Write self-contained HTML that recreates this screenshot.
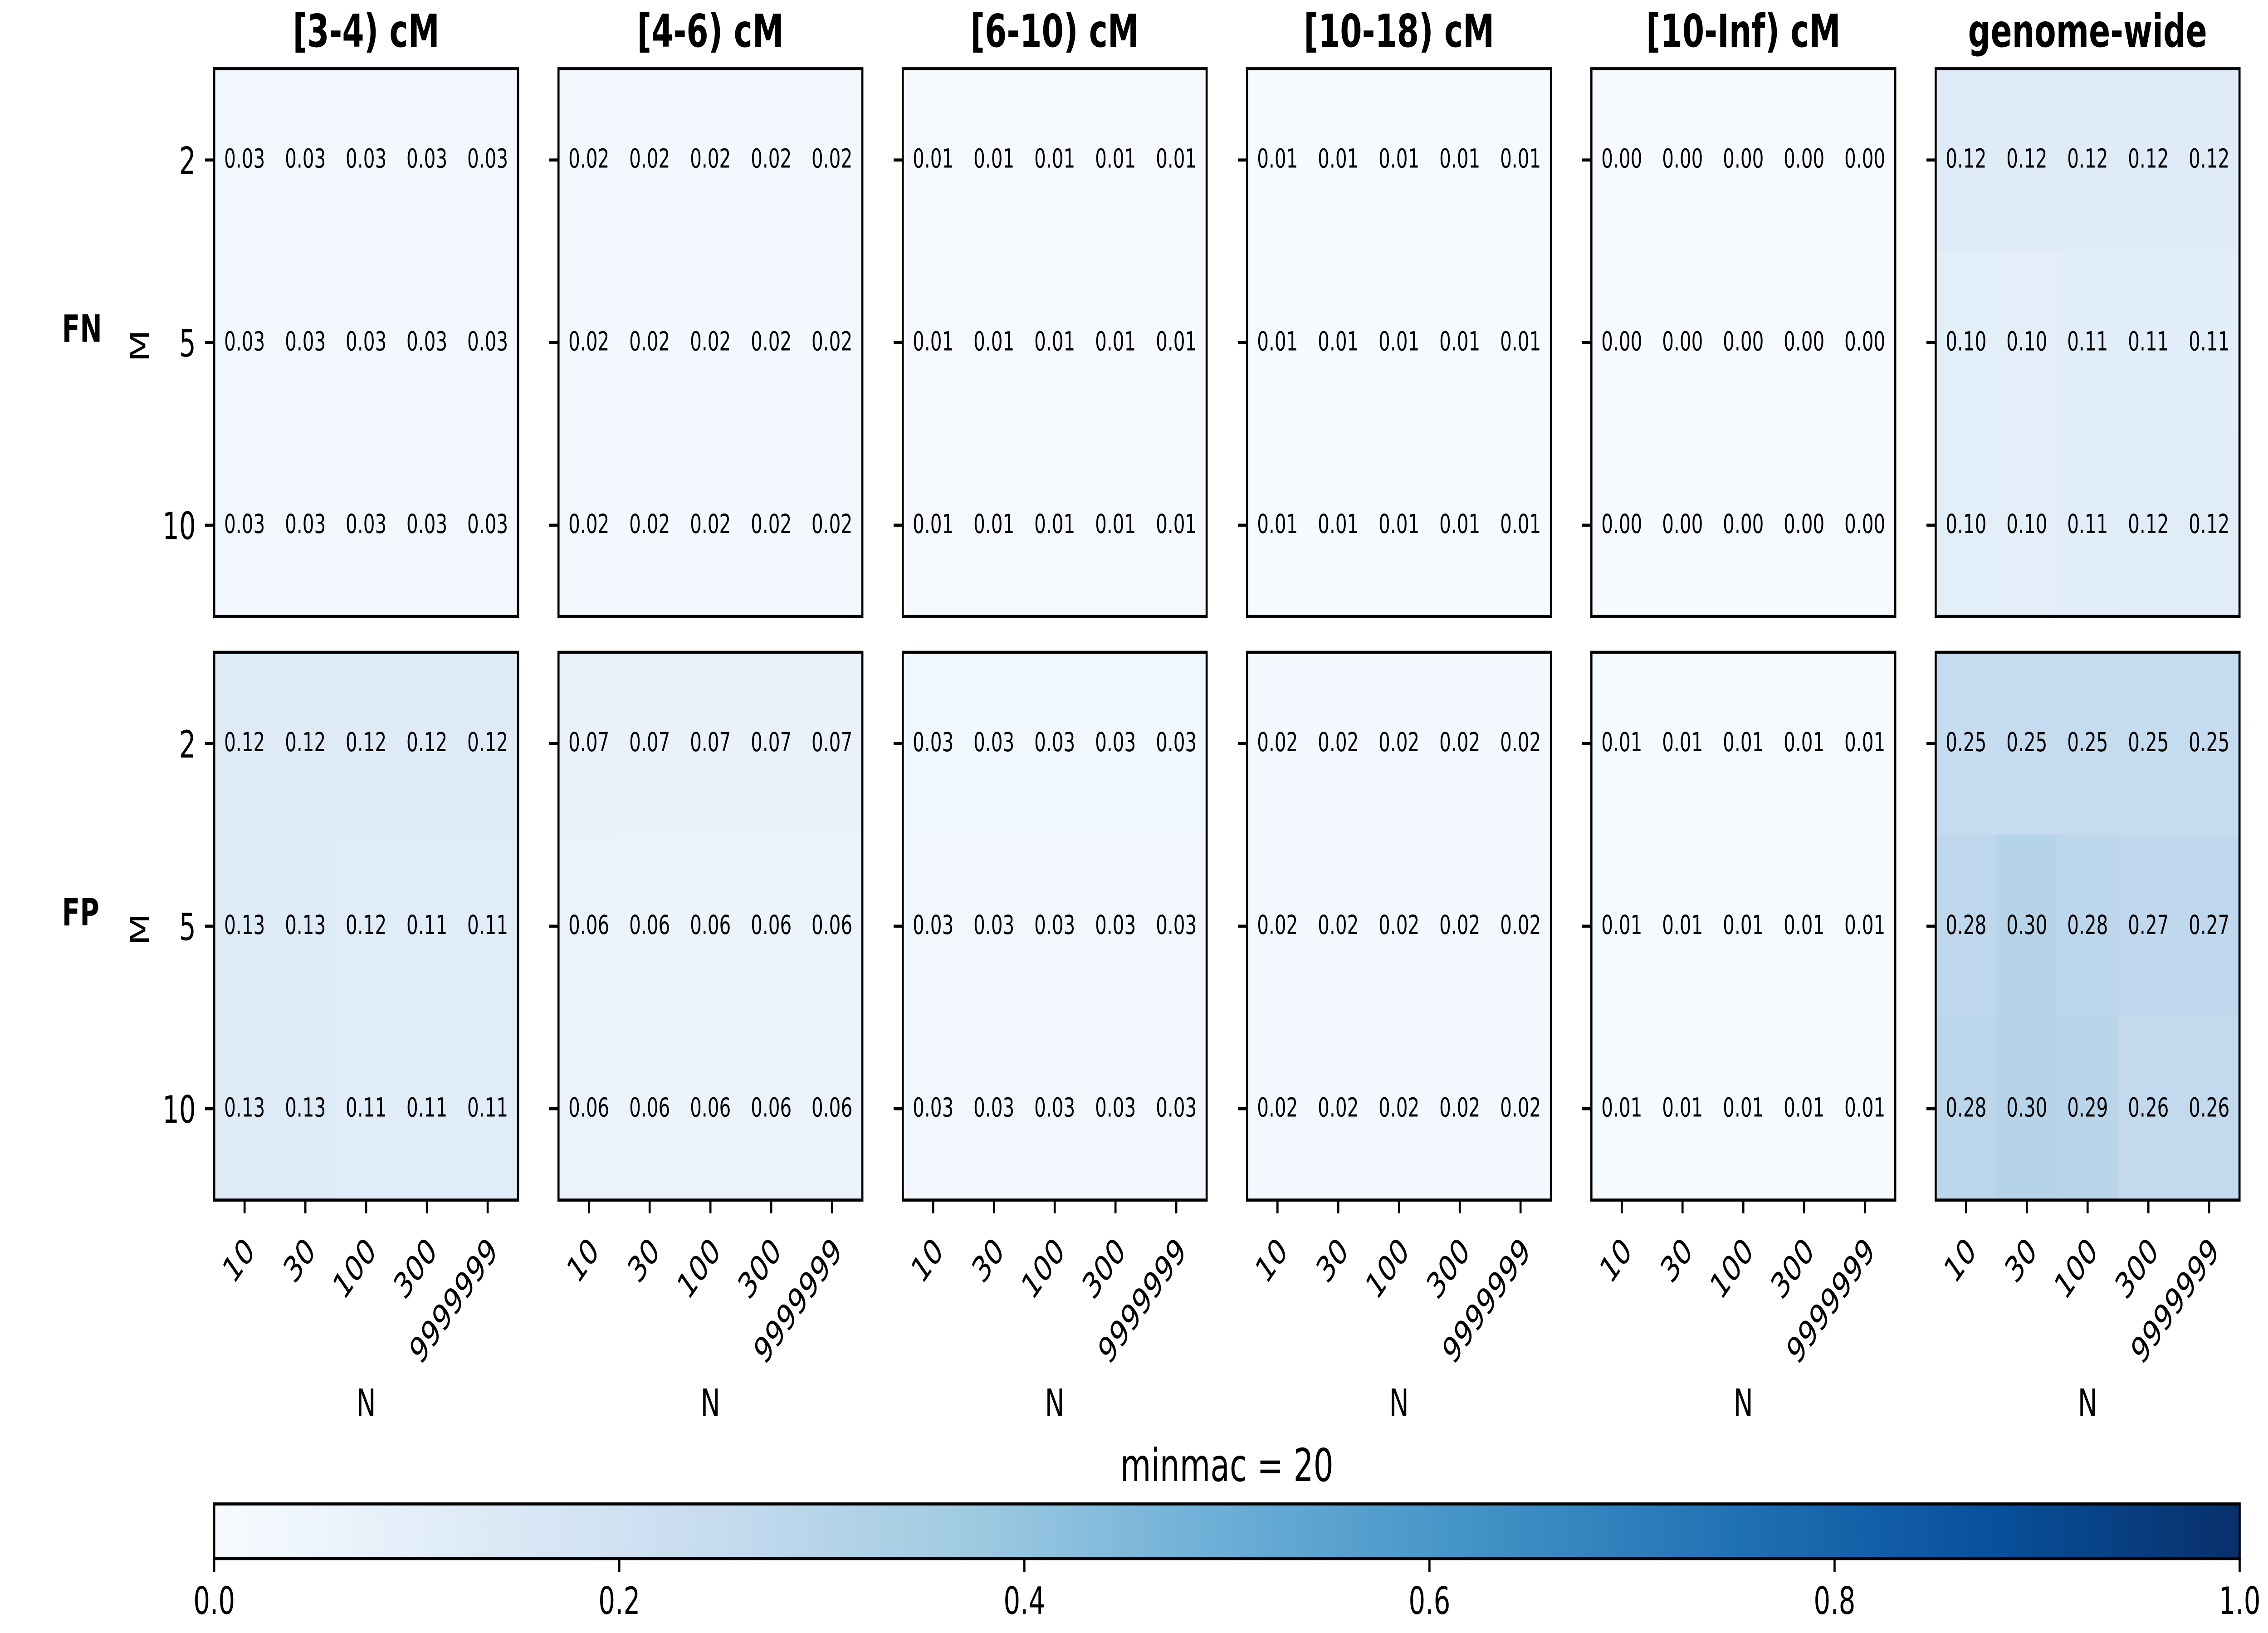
<!DOCTYPE html>
<html lang="en">
<head>
<meta charset="utf-8">
<title>minmac = 20 heatmaps</title>
<style>
html,body{margin:0;padding:0;background:#fff;width:100%;height:100%;overflow:hidden;}
svg{display:block;width:100vw;height:100vh;}
text{font-family:"DejaVu Sans","Liberation Sans",sans-serif;fill:#000;}
</style>
</head>
<body>
<svg id="chart" xmlns="http://www.w3.org/2000/svg" viewBox="0 0 7200 3600" preserveAspectRatio="none">
<defs><linearGradient id="blues-gradient" x1="0" x2="1" y1="0" y2="0"></linearGradient></defs>
<rect x="0" y="0" width="7200" height="3600" fill="#ffffff"></rect>
</svg>
<script>
const panelTitles = ['[3-4) cM', '[4-6) cM', '[6-10) cM', '[10-18) cM', '[10-Inf) cM', 'genome-wide'];
const rowTitles = ['FN', 'FP'];
const nCategories = ['10', '30', '100', '300', '9999999'];
const mCategories = ['2', '5', '10'];
const colorbarTicks = [0, 0.2, 0.4, 0.6, 0.8, 1];
const colorbarTitle = 'minmac = 20';
const xAxisTitle = 'N';
const yAxisTitle = 'M';
const bluesAnchors = ['#f7fbff', '#deebf7', '#c6dbef', '#9ecae1', '#6baed6', '#4292c6', '#2171b5', '#08519c', '#08306b'];

const fn3to4 = [[0.030, 0.030, 0.030, 0.030, 0.030], [0.030, 0.030, 0.031, 0.031, 0.031], [0.030, 0.030, 0.031, 0.031, 0.031]];
const fn4to6 = [[0.020, 0.020, 0.020, 0.020, 0.020], [0.020, 0.020, 0.020, 0.020, 0.020], [0.020, 0.020, 0.020, 0.020, 0.020]];
const fn6to10 = [[0.012, 0.012, 0.012, 0.012, 0.012], [0.012, 0.012, 0.012, 0.012, 0.012], [0.012, 0.012, 0.012, 0.012, 0.012]];
const fn10to18 = [[0.010, 0.010, 0.010, 0.010, 0.010], [0.010, 0.010, 0.010, 0.010, 0.010], [0.010, 0.010, 0.010, 0.010, 0.010]];
const fn10toInf = [[0.004, 0.004, 0.004, 0.004, 0.004], [0.004, 0.004, 0.004, 0.004, 0.004], [0.004, 0.004, 0.004, 0.004, 0.004]];
const fnGenome = [[0.122, 0.122, 0.122, 0.122, 0.122], [0.104, 0.100, 0.110, 0.110, 0.110], [0.104, 0.100, 0.110, 0.116, 0.116]];
const fp3to4 = [[0.124, 0.124, 0.124, 0.124, 0.124], [0.128, 0.128, 0.116, 0.114, 0.114], [0.128, 0.128, 0.108, 0.114, 0.114]];
const fp4to6 = [[0.068, 0.068, 0.068, 0.068, 0.068], [0.063, 0.060, 0.060, 0.060, 0.060], [0.063, 0.060, 0.060, 0.060, 0.060]];
const fp6to10 = [[0.034, 0.034, 0.034, 0.034, 0.034], [0.032, 0.032, 0.032, 0.032, 0.032], [0.032, 0.032, 0.030, 0.030, 0.030]];
const fp10to18 = [[0.022, 0.022, 0.022, 0.022, 0.022], [0.022, 0.022, 0.022, 0.022, 0.022], [0.022, 0.022, 0.022, 0.022, 0.022]];
const fp10toInf = [[0.010, 0.010, 0.010, 0.010, 0.010], [0.010, 0.010, 0.010, 0.010, 0.010], [0.010, 0.010, 0.010, 0.010, 0.010]];
const fpGenome = [[0.252, 0.252, 0.252, 0.252, 0.252], [0.276, 0.302, 0.282, 0.272, 0.272], [0.284, 0.302, 0.292, 0.262, 0.262]];

const fnPanels = [fn3to4, fn4to6, fn6to10, fn10to18, fn10toInf, fnGenome];
const fpPanels = [fp3to4, fp4to6, fp6to10, fp10to18, fp10toInf, fpGenome];
const rowPanels = [fnPanels, fpPanels];

const SVG_NS = 'http://www.w3.org/2000/svg';
const svg = document.getElementById('chart');
const STROKE = 6.67;
const TICK = 29.2;

function make(tag, attrs, parent, content) {
  const node = document.createElementNS(SVG_NS, tag);
  for (const key in attrs) node.setAttribute(key, attrs[key]);
  if (content !== undefined) node.textContent = content;
  (parent || svg).appendChild(node);
  return node;
}
function hexToRgb(hex) {
  return [1, 3, 5].map(function (i) { return parseInt(hex.substr(i, 2), 16); });
}
function bluesColor(v) {
  const t = Math.max(0, Math.min(1, v)) * (bluesAnchors.length - 1);
  const i = Math.min(Math.floor(t), bluesAnchors.length - 2);
  const f = t - i;
  const a = hexToRgb(bluesAnchors[i]);
  const b = hexToRgb(bluesAnchors[i + 1]);
  const c = a.map(function (x, k) { return Math.round(x + (b[k] - x) * f); });
  return 'rgb(' + c.join(',') + ')';
}
/* axis functions */
function panelLeft(p) { return 680 + p * 1093; }
function panelWidth() { return 964.6; }
function panelTop(r) { return [151.5, 1438][r]; }
function panelHeight() { return 1207.6; }
function xBand() { return panelWidth() / nCategories.length; }
function yBand() { return panelHeight() / mCategories.length; }
function xScale(p, c) { return panelLeft(p) + xBand() * c; }
function yScale(r, m) { return panelTop(r) + yBand() * m; }
function cbarX(v) { return 680 + v * (7110 - 680); }

rowPanels.forEach(function (panels, r) {
  panels.forEach(function (matrix, p) {
    const left = panelLeft(p);
    const top = panelTop(r);

    matrix.forEach(function (rowValues, m) {
      rowValues.forEach(function (value, c) {
        const cell = make('rect', {
          x: xScale(p, c), y: yScale(r, m), width: xBand() + 0.5, height: yBand() + 0.5,
          fill: bluesColor(value), 'shape-rendering': 'crispEdges'
        });
        
        
      });
    });
    matrix.forEach(function (rowValues, m) {
      rowValues.forEach(function (value, c) {
        const note = make('text', {
          x: xScale(p, c) + xBand() / 2, y: yScale(r, m) + yBand() / 2 + 17,
          'text-anchor': 'middle', 'font-size': 58.33
        }, svg, value.toFixed(2));
        
        
      });
    });

    const frame = make('rect', {
      x: left, y: top, width: panelWidth(), height: panelHeight(),
      fill: 'none', stroke: '#000', 'stroke-width': STROKE
    });
    
    

    mCategories.forEach(function (label, m) {
      const yc = yScale(r, m) + yBand() / 2;
      const tick = make('line', {
        x1: left - TICK, x2: left, y1: yc, y2: yc, stroke: '#000', 'stroke-width': STROKE
      });
      
      
      if (p === 0) {
        const tl = make('text', {
          x: left - 58.3, y: yc + 30.5, 'text-anchor': 'end', 'font-size': 83.33
        }, svg, label);
        
        
      }
    });

    if (r === 1) {
      nCategories.forEach(function (label, c) {
        const xc = xScale(p, c) + xBand() / 2;
        const bottom = top + panelHeight();
        const tick = make('line', {
          x1: xc, x2: xc, y1: bottom, y2: bottom + TICK, stroke: '#000', 'stroke-width': STROKE
        });
        
        
        const ax = xc + 36;
        const ay = 2762;
        const tl = make('text', {
          x: ax, y: ay, 'text-anchor': 'end', 'font-size': 79.2,
          transform: 'rotate(-45 ' + ax + ' ' + ay + ')'
        }, svg, label);
        
        
      });
      const xt = make('text', {
        x: left + panelWidth() / 2, y: 3121.5, 'text-anchor': 'middle', 'font-size': 83.33
      }, svg, xAxisTitle);
      
      
    } else {
      const title = make('text', {
        x: left + panelWidth() / 2, y: 103, 'text-anchor': 'middle',
        'font-size': 100, 'font-weight': 'bold'
      }, svg, panelTitles[p]);
      
      
    }

    if (p === 0) {
      const cy = top + panelHeight() / 2 + 7;
      const yt = make('text', {
        x: 473, y: cy, 'text-anchor': 'middle', 'font-size': 83.33,
        transform: 'rotate(-90 473 ' + cy + ')'
      }, svg, yAxisTitle);
      
      
      const rl = make('text', {
        x: 197, y: top + panelHeight() / 2 - 2,
        'text-anchor': 'start', 'font-size': 83.33, 'font-weight': 'bold'
      }, svg, rowTitles[r]);
      
      
    }
  });
});

const gradient = document.getElementById('blues-gradient');
bluesAnchors.forEach(function (color, i) {
  make('stop', { offset: (i / (bluesAnchors.length - 1)), 'stop-color': color }, gradient);
});
const cbarBody = make('rect', {
  x: cbarX(0), y: 3315.5, width: cbarX(1) - cbarX(0), height: 120.5,
  fill: 'url(#blues-gradient)', stroke: '#000', 'stroke-width': STROKE
});


colorbarTicks.forEach(function (value) {
  const x = cbarX(value);
  const tick = make('line', { x1: x, x2: x, y1: 3436, y2: 3465.2, stroke: '#000', 'stroke-width': STROKE });
  
  
  const tl = make('text', { x: x, y: 3558, 'text-anchor': 'middle', 'font-size': 83.33 }, svg, value.toFixed(1));
  
  
});
const cbarLabel = make('text', {
  x: (cbarX(0) + cbarX(1)) / 2, y: 3265, 'text-anchor': 'middle', 'font-size': 100
}, svg, colorbarTitle);


</script>
</body>
</html>
